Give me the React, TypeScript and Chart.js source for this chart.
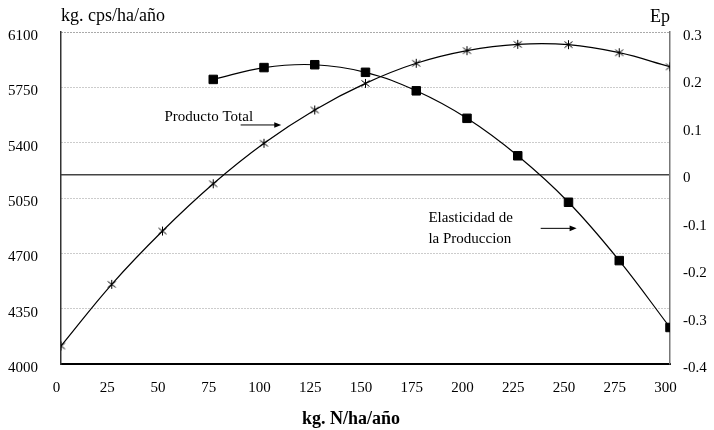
import React, { useEffect, useRef } from "react";
import { Chart, registerables } from "chart.js";

Chart.register(...registerables);

// ---- data ----
const nitrogen = [0, 25, 50, 75, 100, 125, 150, 175, 200, 225, 250, 275, 300];
const productoTotal = [4114, 4504, 4841, 5140, 5396, 5607, 5775, 5902, 5982, 6022, 6020, 5969, 5880];
const elasticidadN = [75, 100, 125, 150, 175, 200, 225, 250, 275, 300];
const elasticidad = [0.2, 0.225, 0.231, 0.215, 0.176, 0.118, 0.039, -0.059, -0.182, -0.323];

const xRange = [0, 300, 25];
const leftRange = [4000, 6100, 350];
const rightRange = [-0.4, 0.3, 0.1];

const leftTitle = "kg. cps/ha/año";
const rightTitle = "Ep";
const xTitle = "kg. N/ha/año";
const prodLabel = "Producto Total";
const elasLabel = ["Elasticidad de", "la Produccion"];

const FONT = '"Liberation Serif", "Times New Roman", serif';

function makeAsterisk(): HTMLCanvasElement {
  const c = document.createElement("canvas");
  c.width = 11;
  c.height = 11;
  const g = c.getContext("2d")!;
  g.strokeStyle = "#000";
  g.lineWidth = 1;
  g.beginPath();
  g.moveTo(5.5, 1);
  g.lineTo(5.5, 10);
  g.moveTo(1.5, 2.5);
  g.lineTo(9.5, 8.5);
  g.moveTo(9.5, 2.5);
  g.lineTo(1.5, 8.5);
  g.stroke();
  return c;
}

function arrow(ctx: CanvasRenderingContext2D, x1: number, x2: number, y: number) {
  ctx.beginPath();
  ctx.lineWidth = 1;
  ctx.strokeStyle = "#000";
  ctx.moveTo(x1, y);
  ctx.lineTo(x2 - 3, y);
  ctx.stroke();
  ctx.beginPath();
  ctx.moveTo(x2, y);
  ctx.lineTo(x2 - 7, y - 2.8);
  ctx.lineTo(x2 - 7, y + 2.8);
  ctx.closePath();
  ctx.fill();
}

const annotPlugin = {
  id: "annot",
  afterDraw(chart: any) {
    const { ctx, chartArea, scales } = chart;
    const xs = scales.x;
    const yl = scales.yL;
    const yr = scales.yR;
    ctx.save();
    ctx.fillStyle = "#000";
    ctx.textBaseline = "alphabetic";
    ctx.font = `18px ${FONT}`;
    ctx.textAlign = "left";
    ctx.fillText(leftTitle, chartArea.left, 21);
    ctx.textAlign = "right";
    ctx.fillText(rightTitle, chartArea.right, 22);
    ctx.font = `bold 18px ${FONT}`;
    ctx.textAlign = "center";
    ctx.fillText(xTitle, 351, 424);

    ctx.font = `15px ${FONT}`;
    ctx.textAlign = "left";
    ctx.fillText(prodLabel, xs.getPixelForValue(51), yl.getPixelForValue(5537));
    arrow(ctx, xs.getPixelForValue(88.5), xs.getPixelForValue(108.5), yl.getPixelForValue(5512));

    ctx.fillText(elasLabel[0], xs.getPixelForValue(181), yr.getPixelForValue(-0.1016));
    ctx.fillText(elasLabel[1], xs.getPixelForValue(181), yr.getPixelForValue(-0.145));
    arrow(ctx, xs.getPixelForValue(236.3), xs.getPixelForValue(254), yr.getPixelForValue(-0.114));
    ctx.restore();
  },
};

export default function App() {
  const ref = useRef<HTMLCanvasElement | null>(null);

  useEffect(() => {
    if (!ref.current) return;
    const star = makeAsterisk();
    const tickFont = { family: FONT, size: 15 };
    const chart = new Chart(ref.current, {
      type: "line",
      data: {
        datasets: [
          {
            label: "Producto Total",
            data: nitrogen.map((x, i) => ({ x, y: productoTotal[i] })),
            yAxisID: "yL",
            borderColor: "#000",
            backgroundColor: "#000",
            borderWidth: 1.2,
            pointStyle: star as any,
            pointRadius: 5,
            tension: 0.4,
            fill: false,
          },
          {
            label: "Elasticidad de la Produccion",
            data: elasticidadN.map((x, i) => ({ x, y: elasticidad[i] })),
            yAxisID: "yR",
            borderColor: "#000",
            backgroundColor: "#000",
            borderWidth: 1.2,
            pointStyle: "rect",
            pointRadius: 6,
            pointBorderWidth: 1,
            tension: 0.4,
            fill: false,
          },
        ],
      },
      options: {
        responsive: false,
        animation: false,
        events: [],
        layout: { padding: { top: 32, left: 0, right: 0, bottom: 0 } },
        plugins: {
          legend: { display: false },
          tooltip: { enabled: false },
          title: { display: false },
        },
        scales: {
          x: {
            type: "linear",
            position: "bottom",
            min: xRange[0],
            max: xRange[1],
            ticks: {
              stepSize: xRange[2],
              autoSkip: false,
              maxRotation: 0,
              font: tickFont,
              color: "#000",
              padding: 15,
              labelOffset: -4.5,
            },
            grid: { display: false, drawTicks: false },
            border: { display: true, color: "#000", width: 2 },
            afterFit: (s: any) => {
              s.height = 66;
            },
          },
          yL: {
            type: "linear",
            position: "left",
            min: leftRange[0],
            max: leftRange[1],
            ticks: {
              stepSize: leftRange[2],
              autoSkip: false,
              font: tickFont,
              color: "#000",
              padding: 23,
              labelOffset: 4,
              callback: (v: any) => String(Math.round(Number(v))),
            },
            grid: {
              drawTicks: false,
              lineWidth: 1,
              color: (c: any) => {
                const v = c.tick?.value;
                if (v === leftRange[0]) return "rgba(0,0,0,0)";
                if (v === leftRange[1]) return "#555";
                return "#999";
              },
            },
            border: { display: true, color: "#333", width: 1.5, dash: [1, 2] },
            afterFit: (s: any) => {
              s.width = 61;
            },
          },
          yR: {
            type: "linear",
            position: "right",
            min: rightRange[0],
            max: rightRange[1],
            ticks: {
              stepSize: rightRange[2],
              autoSkip: false,
              font: tickFont,
              color: "#000",
              padding: 13,
              labelOffset: 4,
              callback: (v: any) => {
                const r = Math.round(Number(v) * 10) / 10;
                return r === 0 ? "0" : r.toFixed(1);
              },
            },
            grid: {
              drawTicks: false,
              drawOnChartArea: true,
              lineWidth: 1.5,
              color: (c: any) =>
                Math.abs(c.tick?.value ?? 1) < 1e-9 ? "#444" : "rgba(0,0,0,0)",
            },
            border: { display: true, color: "#777", width: 1.5 },
            afterFit: (s: any) => {
              s.width = 44;
            },
          },
        },
      } as any,
      plugins: [annotPlugin],
    });
    return () => chart.destroy();
  }, []);

  return (
    <div style={{ position: "fixed", left: 0, top: 0, width: 714, height: 430, background: "#fff" }}>
      <canvas ref={ref} width={714} height={430} />
    </div>
  );
}
